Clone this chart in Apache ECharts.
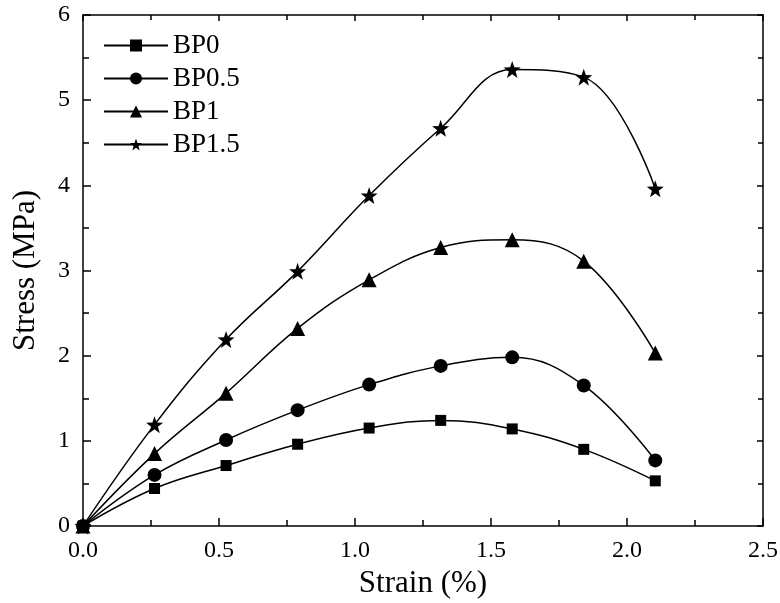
<!DOCTYPE html>
<html>
<head>
<meta charset="utf-8">
<script src="https://cdn.jsdelivr.net/npm/echarts@6/dist/echarts.min.js"></script>
<style>
  html, body { margin: 0; padding: 0; background: #fff; }
  #main { width: 780px; height: 603px; }
</style>
</head>
<body>
<div id="main"></div>
<script>
var strain = [0, 0.263, 0.526, 0.789, 1.052, 1.315, 1.578, 1.841, 2.104];
var bp0 = [0, 0.44, 0.71, 0.96, 1.15, 1.24, 1.14, 0.90, 0.53];
var bp05 = [0, 0.60, 1.01, 1.36, 1.66, 1.88, 1.98, 1.65, 0.77];
var bp1 = [0, 0.85, 1.56, 2.32, 2.89, 3.27, 3.36, 3.11, 2.03];
var bp15 = [0, 1.19, 2.19, 2.99, 3.88, 4.67, 5.36, 5.27, 3.96];

var names = ['BP0', 'BP0.5', 'BP1', 'BP1.5'];
var symbols = ['rect', 'circle', 'triangle', 'path://M0,-10 L2.35,-3.24 L9.51,-3.09 L3.8,1.24 L5.88,8.09 L0,4 L-5.88,8.09 L-3.8,1.24 L-9.51,-3.09 L-2.35,-3.24 Z'];
var sizes = [11, 14, 15, 17];
var values = [bp0, bp05, bp1, bp15];

var font = "'Liberation Serif'";

function pairs(ys) {
  return strain.map(function (x, i) { return [x, ys[i]]; });
}

var chart = echarts.init(document.getElementById('main'));

var series = names.map(function (n, k) {
  return {
    name: n,
    type: 'line',
    data: pairs(values[k]),
    smooth: 0.4,
    symbol: symbols[k],
    symbolSize: sizes[k],
    showSymbol: true,
    lineStyle: { color: '#000', width: 1.5 },
    itemStyle: { color: '#000' },
    xAxisIndex: 0,
    yAxisIndex: 0
  };
});

var tickStyle = { color: '#000', width: 1.5 };

var option = {
  backgroundColor: '#fff',
  animation: false,
  textStyle: { fontFamily: font },
  grid: { left: 83, right: 17, top: 15, bottom: 77, containLabel: false, outerBoundsMode: 'none' },
  legend: {
    orient: 'vertical',
    left: 98,
    top: 27,
    itemWidth: 64,
    itemHeight: 15,
    itemGap: 6,
    textStyle: { fontFamily: font, fontSize: 27, color: '#000' },
    data: names
  },
  xAxis: [{
    type: 'value',
    min: 0, max: 2.5, interval: 0.5,
    name: 'Strain (%)',
    nameLocation: 'middle',
    nameGap: 42,
    nameMoveOverlap: false,
    nameTextStyle: { fontFamily: font, fontSize: 31, color: '#000' },
    axisLine: { onZero: false, lineStyle: { color: '#000', width: 1.5 } },
    axisTick: { inside: true, length: 8, lineStyle: tickStyle },
    minorTick: { show: true, splitNumber: 2, length: 6, lineStyle: tickStyle },
    axisLabel: { fontFamily: font, fontSize: 24, color: '#000', margin: 13,
      formatter: function (v) { return v.toFixed(1); } },
    splitLine: { show: false }
  }, {
    type: 'value',
    position: 'top',
    min: 0, max: 2.5, interval: 0.5,
    axisLine: { show: true, onZero: false, lineStyle: { color: '#000', width: 1.5 } },
    axisTick: { inside: true, length: 6, lineStyle: tickStyle },
    minorTick: { show: true, splitNumber: 2, length: 5, lineStyle: tickStyle },
    axisLabel: { show: false },
    splitLine: { show: false }
  }],
  yAxis: [{
    type: 'value',
    min: 0, max: 6, interval: 1,
    name: 'Stress (MPa)',
    nameLocation: 'middle',
    nameGap: 42,
    nameMoveOverlap: false,
    nameTextStyle: { fontFamily: font, fontSize: 31, color: '#000' },
    axisLine: { show: true, onZero: false, lineStyle: { color: '#000', width: 1.5 } },
    axisTick: { show: true, inside: true, length: 8, lineStyle: tickStyle },
    minorTick: { show: true, splitNumber: 2, length: 6, lineStyle: tickStyle },
    axisLabel: { fontFamily: font, fontSize: 24, color: '#000', margin: 13 },
    splitLine: { show: false }
  }, {
    type: 'value',
    position: 'right',
    min: 0, max: 6, interval: 1,
    axisLine: { show: true, onZero: false, lineStyle: { color: '#000', width: 1.5 } },
    axisTick: { show: true, inside: true, length: 6, lineStyle: tickStyle },
    minorTick: { show: true, splitNumber: 2, length: 5, lineStyle: tickStyle },
    axisLabel: { show: false },
    splitLine: { show: false }
  }],
  series: series
};

chart.setOption(option);
</script>
</body>
</html>
